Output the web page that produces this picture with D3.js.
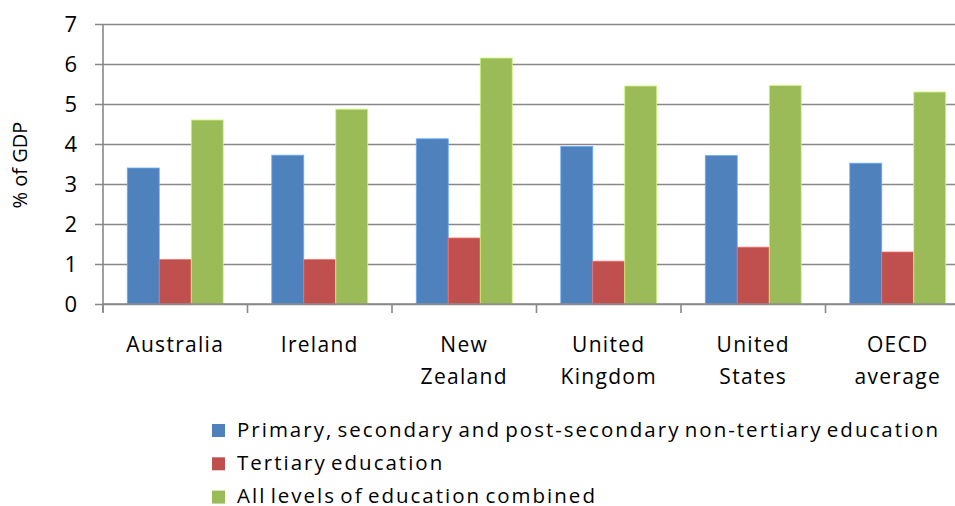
<!DOCTYPE html>
<html>
<head>
<meta charset="utf-8">
<script src="https://cdn.jsdelivr.net/npm/d3@7"></script>
<style>
  body { margin: 0; background: #fff; }
  svg { display: block; }
</style>
</head>
<body>
<div id="chart"></div>
<script>
var categories = [["Australia"], ["Ireland"], ["New", "Zealand"], ["United", "Kingdom"], ["United", "States"], ["OECD", "average"]];
var seriesNames = ["Primary, secondary and post-secondary non-tertiary education", "Tertiary education", "All levels of education combined"];
var primarySecondary = [3.4, 3.72, 4.13, 3.94, 3.71, 3.52];
var tertiary = [1.11, 1.11, 1.65, 1.07, 1.42, 1.3];
var allLevels = [4.6, 4.87, 6.15, 5.45, 5.46, 5.3];
var yTicks = [0, 1, 2, 3, 4, 5, 6, 7];
var colors = ["#4f81bd", "#c0504d", "#9bbb59"];

var W = 955, H = 506;
var font = "'Open Sans', sans-serif";
var svg = d3.select("#chart").append("svg").attr("width", W).attr("height", H);

var keys = categories.map(function(c) { return c.join(" "); });
var seriesVals = [primarySecondary, tertiary, allLevels];

// plot area runs off the right edge like the source
var x0 = d3.scaleBand().domain(keys).range([103, 103 + 6 * 144.5]).paddingInner(0.336).paddingOuter(0.168);
var x1 = d3.scaleBand().domain([0, 1, 2]).range([0, x0.bandwidth()]);
var y = d3.scaleLinear().domain([0, 7]).range([304, 24]);

// gridlines + y ticks
var yAxis = svg.append("g")
  .attr("transform", "translate(103,0)")
  .call(d3.axisLeft(y).tickValues(yTicks).tickSize(8).tickPadding(18).tickFormat(d3.format("d")));
yAxis.select(".domain").remove();
yAxis.selectAll(".tick line").attr("stroke", "#888").attr("stroke-width", 1.6).attr("x2", W - 103);
yAxis.selectAll(".tick line").attr("x1", -8);
yAxis.selectAll("text").style("font-family", font).style("font-size", "22px").style("fill", "#000");

// bars
seriesVals.forEach(function(vals, s) {
  svg.append("g").selectAll("rect")
    .data(vals)
    .enter().append("rect")
    .attr("x", function(d, i) { return x0(keys[i]) + x1(s); })
    .attr("width", x1.bandwidth())
    .attr("y", function(d) { return y(d); })
    .attr("height", function(d) { return y(0) - y(d); })
    .style("fill", colors[s])
    .style("stroke", d3.color(colors[s]).brighter(0.8))
    .style("stroke-width", 0.8);
});

// x axis
var xAxis = svg.append("g")
  .attr("transform", "translate(0,304)")
  .call(d3.axisBottom(x0).tickSize(0).tickFormat(""));
xAxis.select(".domain").attr("stroke", "#888").attr("stroke-width", 1.6)
  .attr("d", "M103,0H" + W);
var boundaries = keys.map(function(k) { return x0(k) - x0.step() * 0.336 / 2; });
xAxis.selectAll("line.cat").data(boundaries).enter().append("line")
  .attr("class", "cat")
  .attr("x1", function(d) { return d; }).attr("x2", function(d) { return d; })
  .attr("y1", 0).attr("y2", 9)
  .attr("stroke", "#888").attr("stroke-width", 1.6);

// vertical axis line
svg.append("line").attr("x1", 103).attr("x2", 103).attr("y1", 24).attr("y2", 312)
  .attr("stroke", "#888").attr("stroke-width", 1.6);

// category labels
categories.forEach(function(lines, i) {
  var t = svg.append("text")
    .attr("x", x0(keys[i]) + x0.bandwidth() / 2)
    .attr("y", 352)
    .attr("text-anchor", "middle")
    .style("font-family", font).style("font-size", "21px")
    .style("letter-spacing", "1.3px");
  lines.forEach(function(l, j) {
    t.append("tspan").attr("x", x0(keys[i]) + x0.bandwidth() / 2).attr("dy", j === 0 ? 0 : 32).text(l);
  });
});

// y axis title
svg.append("text")
  .attr("transform", "translate(27,165) rotate(-90)")
  .attr("text-anchor", "middle")
  .style("font-family", font).style("font-size", "20px")
  .text("% of GDP");

// legend
var legend = svg.append("g").attr("transform", "translate(212,430)");
seriesNames.forEach(function(name, i) {
  var g = legend.append("g").attr("transform", "translate(0," + i * 33.3 + ")");
  g.append("rect").attr("x", 0).attr("y", -6).attr("width", 13).attr("height", 13).style("fill", colors[i]);
  g.append("text").attr("x", 25).attr("y", 6.5)
    .style("font-family", font).style("font-size", "20.5px")
    .style("letter-spacing", "2px").style("word-spacing", "-3px").text(name);
});
</script>
</body>
</html>
